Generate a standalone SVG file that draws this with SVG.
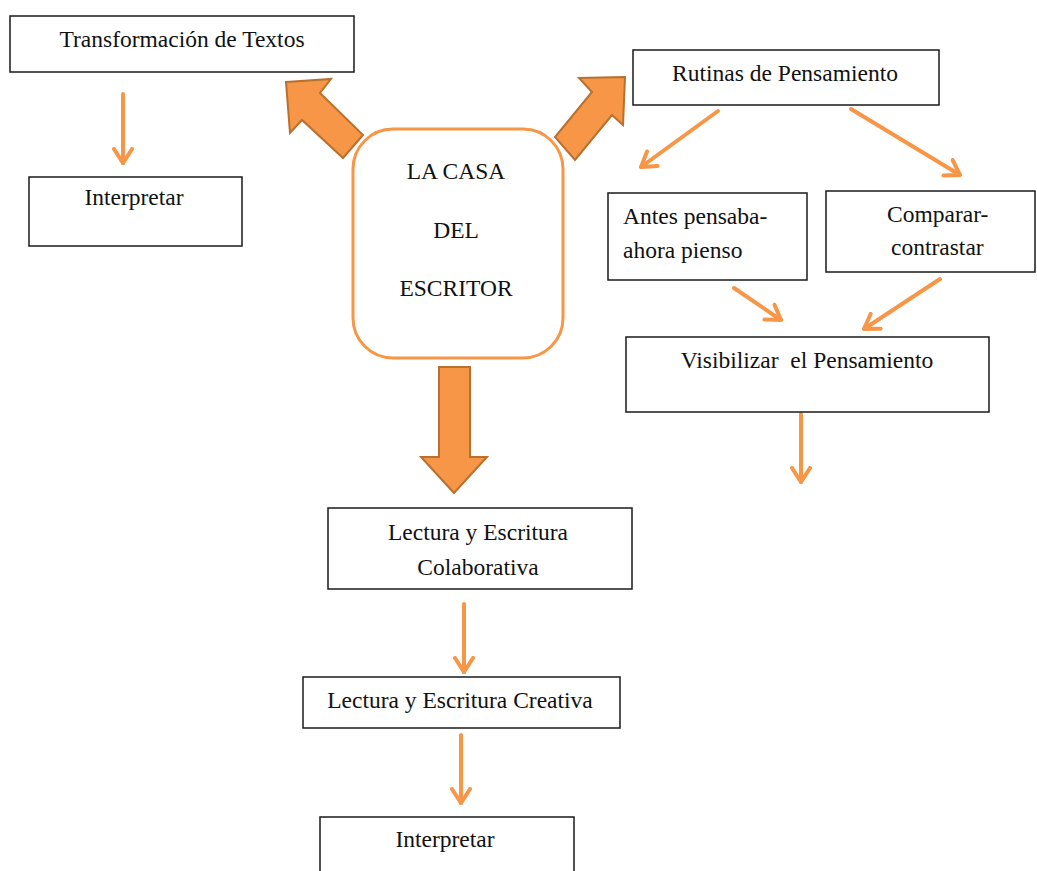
<svg xmlns="http://www.w3.org/2000/svg" width="1037" height="871" viewBox="0 0 1037 871">
<defs>
<style>
.box{fill:#fff;stroke:#1a1a1a;stroke-width:1.5}
.t{font-family:"Liberation Serif","Times New Roman",serif;font-size:23.5px;fill:#111}
.c{text-anchor:middle}
.con{fill:none;stroke:#F79646;stroke-width:4;stroke-linecap:round}
.big{fill:#F79646;stroke:#B8702F;stroke-width:2;stroke-linejoin:miter}
</style>
<marker id="ah" viewBox="-16 -11 18 22" markerWidth="18" markerHeight="22" refX="0" refY="0" orient="auto" markerUnits="userSpaceOnUse">
<path d="M-14,-9 L0,0 L-14,9" fill="none" stroke="#F79646" stroke-width="4" stroke-linecap="round" stroke-linejoin="miter"/>
</marker>
</defs>
<rect width="1037" height="871" fill="#fff"/>

<g id="connectors">
<path class="con" d="M123,94 L123,163" marker-end="url(#ah)"/>
<path class="con" d="M718,111 L641,167" marker-end="url(#ah)"/>
<path class="con" d="M851,109 L960,175" marker-end="url(#ah)"/>
<path class="con" d="M734,288 L781,320" marker-end="url(#ah)"/>
<path class="con" d="M940,279 L864,329" marker-end="url(#ah)"/>
<path class="con" d="M801,414 L801,482" marker-end="url(#ah)"/>
<path class="con" d="M464,604 L464,672" marker-end="url(#ah)"/>
<path class="con" d="M461,735 L461,803" marker-end="url(#ah)"/>
<polygon class="big" points="286,82 331,79 320,93 363,135 343,158 302,120 290,133"/>
<polygon class="big" points="625,77 579,78 592,92 555,137 575,160 612,115 623,125"/>
<polygon class="big" points="439,367 470,367 470,457 487,457 454,493 421,457 439,457"/>
</g>

<g id="n-transformacion">
<rect class="box" x="10" y="16" width="344" height="56"/>
<text class="t c" x="182" y="47">Transformación  de Textos</text>
</g>

<g id="n-interpretar1">
<rect class="box" x="29" y="177" width="213" height="69"/>
<text class="t c" x="134" y="205">Interpretar</text>
</g>

<g id="n-casa">
<rect x="353" y="129" width="210" height="229" rx="40" ry="40" fill="#fff" stroke="#F79646" stroke-width="3"/>
<text class="t c" x="456" y="179">LA CASA</text>
<text class="t c" x="456" y="238">DEL</text>
<text class="t c" x="456" y="296">ESCRITOR</text>
</g>

<g id="n-rutinas">
<rect class="box" x="633" y="50" width="306" height="55"/>
<text class="t c" x="785" y="81">Rutinas de Pensamiento</text>
</g>

<g id="n-antes">
<rect class="box" x="608" y="193" width="199" height="87"/>
<text class="t" x="623" y="224">Antes pensaba-</text>
<text class="t" x="623" y="258">ahora pienso</text>
</g>

<g id="n-comparar">
<rect class="box" x="826" y="191" width="209" height="81"/>
<text class="t" x="887" y="222">Comparar-</text>
<text class="t" x="891" y="255">contrastar</text>
</g>

<g id="n-visibilizar">
<rect class="box" x="626" y="337" width="363" height="75"/>
<text class="t c" x="807" y="368" xml:space="preserve">Visibilizar  el Pensamiento</text>
</g>

<g id="n-colaborativa">
<rect class="box" x="328" y="508" width="304" height="81"/>
<text class="t c" x="478" y="540">Lectura y Escritura</text>
<text class="t c" x="478" y="575">Colaborativa</text>
</g>

<g id="n-creativa">
<rect class="box" x="303" y="677" width="317" height="51"/>
<text class="t c" x="460" y="708">Lectura y Escritura Creativa</text>
</g>

<g id="n-interpretar2">
<rect class="box" x="320" y="817" width="254" height="70"/>
<text class="t c" x="445" y="847">Interpretar</text>
</g>
</svg>
